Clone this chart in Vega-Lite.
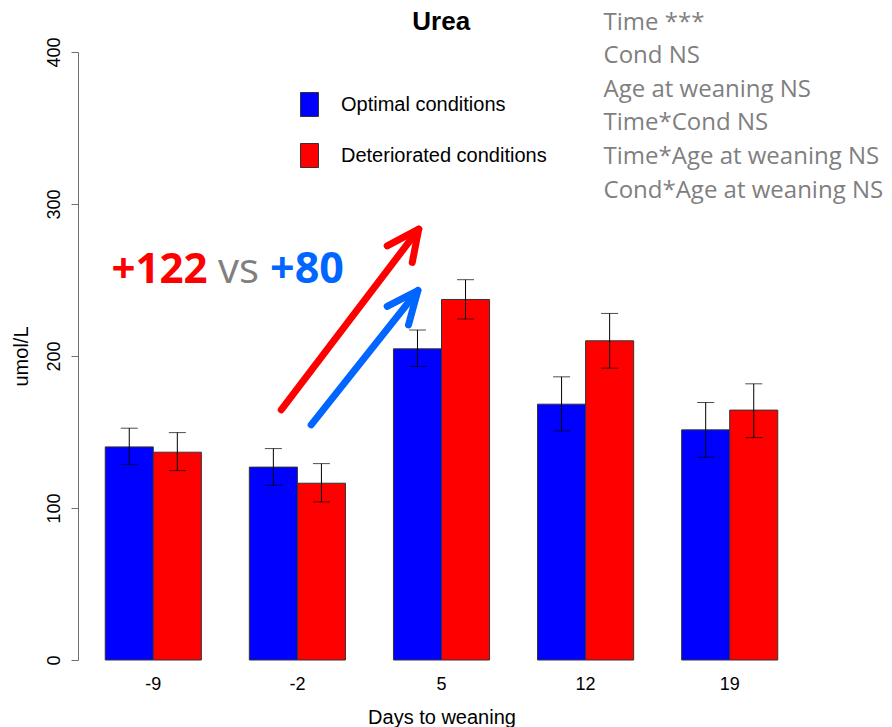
{
  "$schema": "https://vega.github.io/schema/vega-lite/v6.json",
  "width": 727,
  "height": 608,
  "autosize": "none",
  "padding": {"left": 78, "top": 52, "right": 87, "bottom": 67},
  "background": "white",
  "config": {
    "view": {"stroke": null},
    "axis": {"grid": false}
  },
  "resolve": {"scale": {"x": "independent"}},
  "layer": [
    {
      "data": {"values": [
        {"day": "-9", "cond": "Optimal conditions", "value": 140.2, "lo": 128.6, "hi": 152.5},
        {"day": "-9", "cond": "Deteriorated conditions", "value": 136.7, "lo": 124.6, "hi": 149.6},
        {"day": "-2", "cond": "Optimal conditions", "value": 126.9, "lo": 115.0, "hi": 139.1},
        {"day": "-2", "cond": "Deteriorated conditions", "value": 116.3, "lo": 104.0, "hi": 129.2},
        {"day": "5", "cond": "Optimal conditions", "value": 204.7, "lo": 193.1, "hi": 217.1},
        {"day": "5", "cond": "Deteriorated conditions", "value": 237.2, "lo": 224.3, "hi": 250.2},
        {"day": "12", "cond": "Optimal conditions", "value": 168.3, "lo": 150.6, "hi": 186.3},
        {"day": "12", "cond": "Deteriorated conditions", "value": 210.0, "lo": 192.0, "hi": 228.0},
        {"day": "19", "cond": "Optimal conditions", "value": 151.4, "lo": 133.4, "hi": 169.4},
        {"day": "19", "cond": "Deteriorated conditions", "value": 164.4, "lo": 146.3, "hi": 181.7}
      ]},
      "encoding": {
        "x": {"field": "day", "type": "nominal", "sort": ["-9", "-2", "5", "12", "19"],
          "scale": {"type": "band", "paddingInner": 0.333, "paddingOuter": 0.189},
          "axis": {"title": "Days to weaning", "labelAngle": 0, "domain": false, "ticks": false, "tickSize": 0, "labelPadding": 15,
            "labelFont": "Liberation Sans", "labelFontSize": 18, "labelColor": "black",
            "titleFont": "Liberation Sans", "titleFontSize": 20, "titleFontWeight": "normal", "titleColor": "black", "titlePadding": 14}},
        "xOffset": {"field": "cond", "type": "nominal", "sort": ["Optimal conditions", "Deteriorated conditions"],
          "scale": {"paddingInner": 0, "paddingOuter": 0}}
      },
      "layer": [
        {
          "mark": {"type": "bar", "stroke": "#333333", "strokeWidth": 1},
          "encoding": {
            "y": {"field": "value", "type": "quantitative", "scale": {"domain": [0, 400], "nice": false},
              "axis": {"title": "umol/L", "values": [0, 100, 200, 300, 400], "labelAngle": -90, "labelAlign": "center", "labelBaseline": "alphabetic",
                "tickSize": 7, "labelPadding": 11.5, "domain": true, "ticks": true, "domainColor": "#6e6e6e", "tickColor": "#6e6e6e",
                "labelFont": "Liberation Sans", "labelFontSize": 18, "labelColor": "black",
                "titleFont": "Liberation Sans", "titleFontSize": 20, "titleFontWeight": "normal", "titleColor": "black", "titlePadding": 14}},
            "color": {"field": "cond", "type": "nominal", "sort": ["Optimal conditions", "Deteriorated conditions"],
              "scale": {"domain": ["Optimal conditions", "Deteriorated conditions"], "range": ["#0000ff", "#ff0000"]},
              "legend": {"title": null, "orient": "none", "legendX": 219, "legendY": 40, "padding": 0,
                "symbolType": "M-0.75,-1H0.75V1H-0.75Z", "symbolSize": 576, "symbolStrokeColor": "#333333", "symbolStrokeWidth": 1, "symbolOpacity": 1,
                "labelFont": "Liberation Sans", "labelFontSize": 20, "labelColor": "black", "labelOffset": 19, "rowPadding": 22, "labelLimit": 400}}
          }
        },
        {
          "mark": {"type": "rule", "color": "black", "strokeWidth": 1},
          "encoding": {
            "y": {"field": "lo", "type": "quantitative", "scale": {"domain": [0, 400], "nice": false}},
            "y2": {"field": "hi"}
          }
        },
        {
          "mark": {"type": "tick", "color": "black", "thickness": 1, "size": 17},
          "encoding": {
            "y": {"field": "lo", "type": "quantitative", "scale": {"domain": [0, 400], "nice": false}}
          }
        },
        {
          "mark": {"type": "tick", "color": "black", "thickness": 1, "size": 17},
          "encoding": {
            "y": {"field": "hi", "type": "quantitative", "scale": {"domain": [0, 400], "nice": false}}
          }
        }
      ]
    },
    {
      "layer": [
        {
          "data": {"values": [
            {"part": "shaft", "ord": 1, "gx": 0.889, "v": 164.6},
            {"part": "shaft", "ord": 2, "gx": 1.844, "v": 283.5},
            {"part": "head", "ord": 1, "gx": 1.625, "v": 272.5},
            {"part": "head", "ord": 2, "gx": 1.844, "v": 283.5},
            {"part": "head", "ord": 3, "gx": 1.799, "v": 261.6}
          ]},
          "mark": {"type": "line", "color": "#ff0000", "strokeWidth": 7, "strokeCap": "round", "strokeJoin": "round"},
          "encoding": {
            "x": {"field": "gx", "type": "quantitative", "scale": {"domain": [-0.522, 4.526], "nice": false, "zero": false}, "axis": null},
            "y": {"field": "v", "type": "quantitative", "scale": {"domain": [0, 400], "nice": false}},
            "detail": {"field": "part"},
            "order": {"field": "ord"}
          }
        },
        {
          "data": {"values": [
            {"part": "shaft", "ord": 1, "gx": 1.097, "v": 154.7},
            {"part": "shaft", "ord": 2, "gx": 1.838, "v": 243.1},
            {"part": "head", "ord": 1, "gx": 1.625, "v": 232.6},
            {"part": "head", "ord": 2, "gx": 1.838, "v": 243.1},
            {"part": "head", "ord": 3, "gx": 1.773, "v": 220.5}
          ]},
          "mark": {"type": "line", "color": "#0066ff", "strokeWidth": 7, "strokeCap": "round", "strokeJoin": "round"},
          "encoding": {
            "x": {"field": "gx", "type": "quantitative", "scale": {"domain": [-0.522, 4.526], "nice": false, "zero": false}, "axis": null},
            "y": {"field": "v", "type": "quantitative", "scale": {"domain": [0, 400], "nice": false}},
            "detail": {"field": "part"},
            "order": {"field": "ord"}
          }
        },
        {
          "data": {"values": [{}]},
          "mark": {"type": "text", "text": "Urea", "font": "Liberation Sans", "fontSize": 26, "fontWeight": "bold", "color": "black", "align": "center", "baseline": "alphabetic"},
          "encoding": {
            "x": {"datum": 2.0, "type": "quantitative", "scale": {"domain": [-0.522, 4.526], "nice": false, "zero": false}, "axis": null},
            "y": {"datum": 414.8, "type": "quantitative", "scale": {"domain": [0, 400], "nice": false}}
          }
        },
        {
          "data": {"values": [{}]},
          "mark": {"type": "text", "text": "+122", "font": "Open Sans", "fontSize": 42, "fontWeight": "bold", "color": "#ff0000", "align": "left", "baseline": "alphabetic"},
          "encoding": {
            "x": {"datum": -0.290, "type": "quantitative", "scale": {"domain": [-0.522, 4.526], "nice": false, "zero": false}, "axis": null},
            "y": {"datum": 248.0, "type": "quantitative", "scale": {"domain": [0, 400], "nice": false}}
          }
        },
        {
          "data": {"values": [{}]},
          "mark": {"type": "text", "text": "vs", "font": "Open Sans", "fontSize": 42, "color": "#7f7f7f", "align": "left", "baseline": "alphabetic"},
          "encoding": {
            "x": {"datum": 0.450, "type": "quantitative", "scale": {"domain": [-0.522, 4.526], "nice": false, "zero": false}, "axis": null},
            "y": {"datum": 248.0, "type": "quantitative", "scale": {"domain": [0, 400], "nice": false}}
          }
        },
        {
          "data": {"values": [{}]},
          "mark": {"type": "text", "text": "+80", "font": "Open Sans", "fontSize": 43, "fontWeight": "bold", "color": "#0066ff", "align": "left", "baseline": "alphabetic"},
          "encoding": {
            "x": {"datum": 0.812, "type": "quantitative", "scale": {"domain": [-0.522, 4.526], "nice": false, "zero": false}, "axis": null},
            "y": {"datum": 248.0, "type": "quantitative", "scale": {"domain": [0, 400], "nice": false}}
          }
        },
        {
          "data": {"values": [{}]},
          "mark": {"type": "text", "text": ["Time ***", "Cond NS", "Age at weaning NS", "Time*Cond NS", "Time*Age at weaning NS", "Cond*Age at weaning NS"],
            "lineHeight": 33.6, "font": "Open Sans", "fontSize": 24, "color": "#7f7f7f", "align": "left", "baseline": "alphabetic"},
          "encoding": {
            "x": {"datum": 3.127, "type": "quantitative", "scale": {"domain": [-0.522, 4.526], "nice": false, "zero": false}, "axis": null},
            "y": {"datum": 414.8, "type": "quantitative", "scale": {"domain": [0, 400], "nice": false}}
          }
        }
      ]
    }
  ]
}
